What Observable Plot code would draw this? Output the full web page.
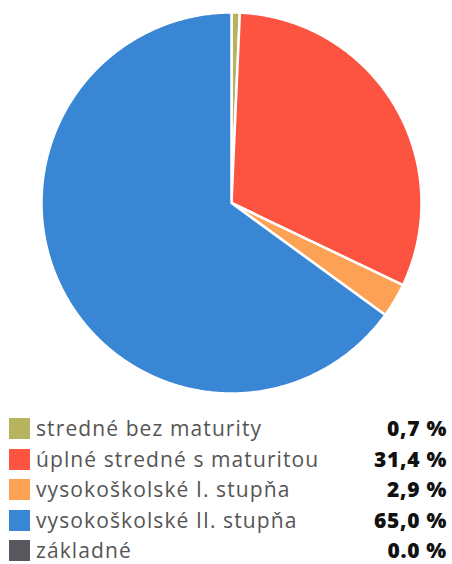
<!DOCTYPE html>
<html>
<head>
<meta charset="utf-8">
<script src="https://cdn.jsdelivr.net/npm/d3@7"></script>
<script src="https://cdn.jsdelivr.net/npm/@observablehq/plot@0.6"></script>
<style>
  html, body { margin: 0; padding: 0; background: #fff; }
  #chart { width: 452px; height: 404px; }
  .legend { width: 452px; font-family: "Open Sans", sans-serif; margin-top: 13px; }
  .row { position: relative; height: 30.6px; }
  .sw { position: absolute; left: 9px; top: 1px; width: 21px; height: 21px; }
  .lab { position: absolute; left: 36px; top: 0px; font-size: 21px; line-height: 23px; color: #555; letter-spacing: 1.1px; white-space: nowrap; }
  .val { position: absolute; right: 5px; top: 0px; font-size: 21px; line-height: 23px; font-weight: 800; color: #111; letter-spacing: 0.7px; white-space: nowrap; }
</style>
</head>
<body>
<div id="chart"></div>
<div class="legend" id="legend"></div>
<script>
const categories = ["stredné bez maturity", "úplné stredné s maturitou", "vysokoškolské I. stupňa", "vysokoškolské II. stupňa", "základné"];
const values = [0.7, 31.4, 2.9, 65.0, 0.0];
const labels = ["0,7 %", "31,4 %", "2,9 %", "65,0 %", "0.0 %"];
const colors = ["#b6b45e", "#fd5341", "#fda254", "#3986d5", "#57585d"];

const total = d3.sum(values);
const pts = [];
let acc = 0;
categories.forEach((c, i) => {
  const a0 = acc / total * 2 * Math.PI;
  acc += values[i];
  const a1 = acc / total * 2 * Math.PI;
  if (values[i] <= 0) return;
  pts.push({cat: c, x: 0, y: 0});
  const n = Math.max(2, Math.ceil((a1 - a0) / (Math.PI / 360)));
  for (let k = 0; k <= n; k++) {
    const a = a0 + (a1 - a0) * k / n;
    pts.push({cat: c, x: Math.sin(a), y: Math.cos(a)});
  }
  pts.push({cat: c, x: 0, y: 0});
});

const plot = Plot.plot({
  width: 452,
  height: 404,
  marginLeft: 41,
  marginRight: 31,
  marginTop: 12,
  marginBottom: 11,
  x: {domain: [-1, 1], axis: null},
  y: {domain: [-1, 1], axis: null},
  color: {domain: categories, range: colors},
  marks: [
    Plot.line(pts, {x: "x", y: "y", z: "cat", fill: "cat", stroke: "white", strokeWidth: 2.5, strokeLinejoin: "round"})
  ]
});
plot.style.display = "block";
document.getElementById("chart").appendChild(plot);

const leg = document.getElementById("legend");
categories.forEach((c, i) => {
  const row = document.createElement("div");
  row.className = "row";
  row.innerHTML = `<div class="sw" style="background:${colors[i]}"></div><div class="lab">${c}</div><div class="val">${labels[i]}</div>`;
  leg.appendChild(row);
});
</script>
</body>
</html>
